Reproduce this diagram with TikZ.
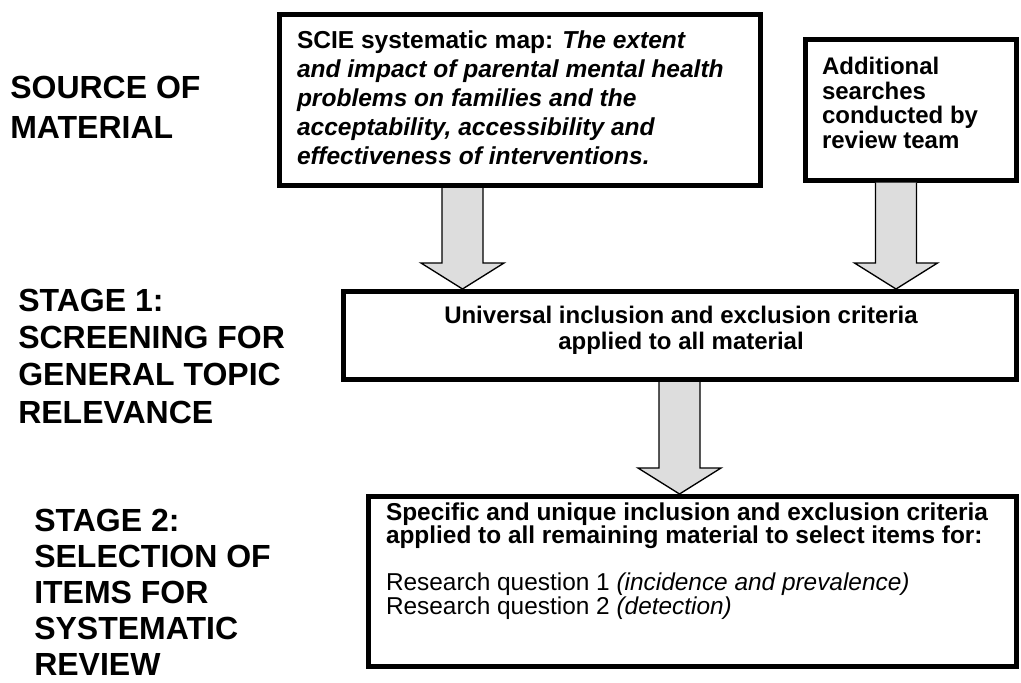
\documentclass[tikz,border=0pt]{standalone}
\usepackage{fontspec}
\setmainfont{Liberation Sans}
\usetikzlibrary{calc,fit}
\definecolor{arrowfill}{HTML}{DDDDDD}

\tikzset{
  stagebox/.style={draw, line width=3.75pt, inner sep=0pt, outer sep=0pt},
  boxtext/.style={inner sep=0pt, outer sep=0pt, font=\bfseries},
  stagelabel/.style={inner sep=0pt, anchor=north west, align=left,
    font=\fontsize{24}{28}\selectfont\bfseries},
  blockarrow/.style={draw, fill=arrowfill, line width=1pt, line join=miter}
}

% block arrow pointing down: #1 top of shaft, #2 tip
\newcommand{\blockdown}[2]{%
  \draw[blockarrow] ($(#1)+(-20.5,0)$) -- ($(#2)+(-20.5,-26)$)
    -- ($(#2)+(-41.5,-26)$) -- (#2) -- ($(#2)+(41.5,-26)$)
    -- ($(#2)+(20.5,-26)$) -- ($(#1)+(20.5,0)$);}

\begin{document}
\begin{tikzpicture}[x=0.75pt,y=-0.75pt]
        \useasboundingbox (0,0) rectangle (1021,682);

        % stage labels
        \node[stagelabel, font=\fontsize{24}{30}\selectfont\bfseries] (srclabel) at (10,75.5) {SOURCE OF\\MATERIAL};
        \node[stagelabel] (onelabel) at (18,288.5) {STAGE 1:\\SCREENING FOR\\GENERAL TOPIC\\RELEVANCE};
        \node[stagelabel, font=\fontsize{24}{27}\selectfont\bfseries] (twolabel) at (34,509) {STAGE 2:\\SELECTION OF\\ITEMS FOR\\SYSTEMATIC\\REVIEW};

        % source boxes
        \node[stagebox, fit={(279,14.5) (760,185.5)}] (scie) {};
        \node[boxtext, anchor=north west, align=left, font=\fontsize{18.4}{21.75}\selectfont\bfseries] (scietext) at (297,30.5)
          {SCIE systematic map: \textit{The extent}\\
           \textit{and impact of parental mental health}\\
           \textit{problems on families and the}\\
           \textit{acceptability, accessibility and}\\
           \textit{effectiveness of interventions.}};
        \node[stagebox, fit={(805.5,39.5) (1016.5,180)}] (search) {};
        \node[boxtext, anchor=north west, align=left, font=\fontsize{18}{18.4}\selectfont\bfseries] (searchtext) at (822,57.5)
          {Additional\\searches\\conducted by\\review team};

        % stage 1 box
        \node[stagebox, fit={(343.5,291.5) (1016.5,379.5)}] (stageone) {};
        \node[boxtext, anchor=north, align=center, font=\fontsize{18}{19.5}\selectfont\bfseries] (stageonetext) at (681,306.5)
          {Universal inclusion and exclusion criteria\\applied to all material};

        % stage 2 box
        \node[stagebox, fit={(368.5,496.5) (1016.5,666.5)}] (stagetwo) {};
        \node[boxtext, anchor=north west, align=left, font=\fontsize{18.3}{17.6}\selectfont] (stagetwotext) at (386,502.5)
          {\textbf{Specific and unique inclusion and exclusion criteria}\\
           \textbf{applied to all remaining material to select items for:}\\[17.6pt]
           Research question 1 \textit{(incidence and prevalence)}\\
           Research question 2 \textit{(detection)}};

        % block arrows
        \coordinate (xone) at (462.5,0);
        \coordinate (xtwo) at (896,0);
        \coordinate (xthree) at (679.5,0);
        \coordinate (aonetop) at ($(xone |- scie.south)+(0,2.5)$);
        \coordinate (aonetip) at ($(xone |- stageone.north)+(0,-2.5)$);
        \coordinate (atwotop) at ($(xtwo |- search.south)+(0,2.5)$);
        \coordinate (atwotip) at ($(xtwo |- stageone.north)+(0,-2.5)$);
        \coordinate (athreetop) at ($(xthree |- stageone.south)+(0,2.5)$);
        \coordinate (athreetip) at ($(xthree |- stagetwo.north)+(0,-2.5)$);
        \blockdown{aonetop}{aonetip}
        \blockdown{atwotop}{atwotip}
        \blockdown{athreetop}{athreetip}
    \end{tikzpicture}
\end{document}
